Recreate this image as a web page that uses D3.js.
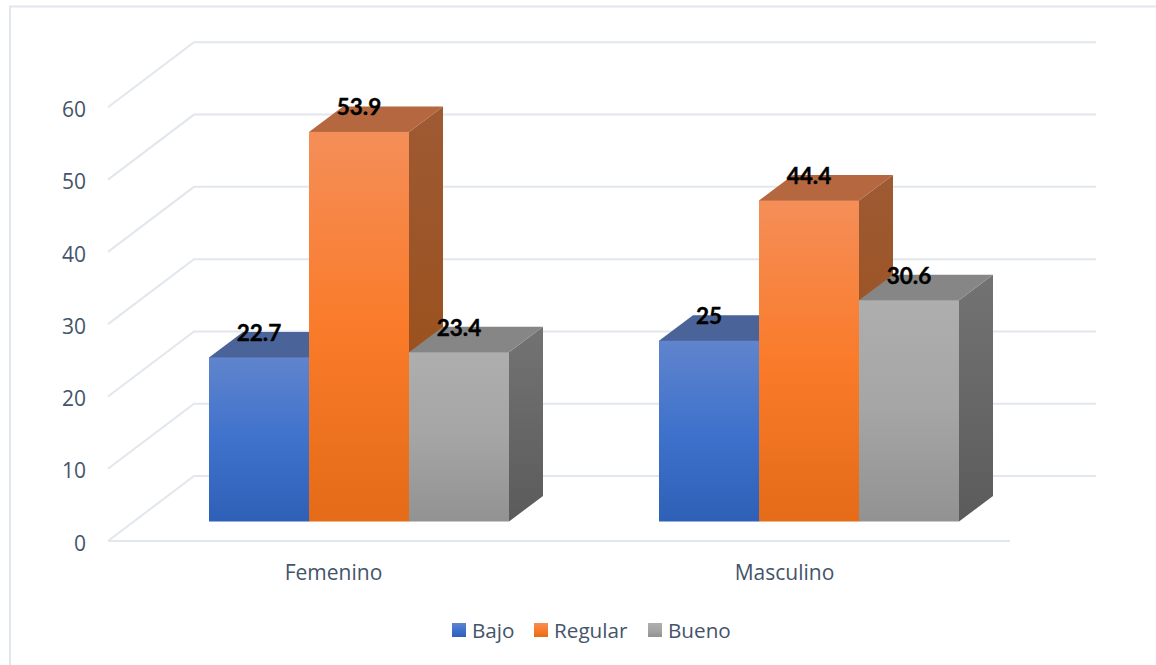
<!DOCTYPE html>
<html>
<head>
<meta charset="utf-8">
<script src="https://cdn.jsdelivr.net/npm/d3@7"></script>
<style>
  html, body { margin: 0; padding: 0; background: #fff; }
  svg { display: block; }
</style>
</head>
<body>
<div id="chart"></div>
<script>
var categories = ["Femenino", "Masculino"];
var seriesNames = ["Bajo", "Regular", "Bueno"];
var bajo = [22.7, 25];
var regular = [53.9, 44.4];
var bueno = [23.4, 30.6];
var yTicks = [0, 10, 20, 30, 40, 50, 60];

var width = 1156, height = 665;
var textColor = "#44546a", gridColor = "#e2e6ed";

// offset of the back wall from the front plane of the 3d box
var wallDx = 86, wallDy = -65;
// depth of a column, and how far the columns sit behind the front edge
var barDx = 34, barDy = -25.5, floorDy = -19.5;

var svg = d3.select("#chart").append("svg")
    .attr("width", width)
    .attr("height", height);

var y = d3.scaleLinear().domain([0, 60]).range([541, 107.3]);

// axis labels sit on the full floor width, the columns on a narrower band
var xAxisScale = d3.scaleBand().domain(categories).range([108, 1010]);
var x0 = d3.scaleBand().domain(categories).range([209, 959]).paddingInner(1 / 3);
var x1 = d3.scaleBand().domain(seriesNames).range([0, x0.bandwidth()]);

// colours per series: front gradient, top face, side gradient
var styles = {
    "Bajo": { front: ["#6084cd", "#3f72cc", "#2e60b7"], top: "#4a6399", side: ["#42598c", "#264d8f"] },
    "Regular": { front: ["#f48e58", "#fa7b2a", "#e46b17"], top: "#b5683f", side: ["#9e5a33", "#994c12"] },
    "Bueno": { front: ["#aeaeae", "#a5a5a5", "#929292"], top: "#868686", side: ["#737373", "#5b5b5b"] }
};

var defs = svg.append("defs");
seriesNames.forEach(function(name, i) {
    var s = styles[name];
    var f = defs.append("linearGradient").attr("id", "front" + i)
        .attr("x1", 0).attr("y1", 0).attr("x2", 0).attr("y2", 1);
    f.append("stop").attr("offset", "0%").attr("stop-color", s.front[0]);
    f.append("stop").attr("offset", "50%").attr("stop-color", s.front[1]);
    f.append("stop").attr("offset", "100%").attr("stop-color", s.front[2]);
    var g = defs.append("linearGradient").attr("id", "side" + i)
        .attr("x1", 0).attr("y1", 0).attr("x2", 0).attr("y2", 1);
    g.append("stop").attr("offset", "0%").attr("stop-color", s.side[0]);
    g.append("stop").attr("offset", "100%").attr("stop-color", s.side[1]);
});

// outer frame, only the top and left edges fall inside the page
svg.append("path")
    .attr("d", d3.line()([[10, height], [10, 6.5], [width, 6.5]]))
    .attr("fill", "none")
    .attr("stroke", gridColor)
    .attr("stroke-width", 2);

// back wall gridlines and the diagonals running out to the axis
var grid = svg.append("g").attr("fill", "none").attr("stroke", gridColor).attr("stroke-width", 2);
yTicks.forEach(function(t) {
    grid.append("path").attr("d", d3.line()([
        [108, y(t)],
        [108 + wallDx, y(t) + wallDy],
        [1010 + wallDx, y(t) + wallDy]
    ]));
});
grid.append("line")
    .attr("x1", 108).attr("x2", 1010)
    .attr("y1", y(0)).attr("y2", y(0));

// axes, lines hidden, only the labels stay
var yAxis = svg.append("g")
    .attr("transform", "translate(97,2.5)")
    .call(d3.axisLeft(y).tickValues(yTicks).tickSize(0).tickPadding(11));
var xAxis = svg.append("g")
    .attr("transform", "translate(0," + y(0) + ")")
    .call(d3.axisBottom(xAxisScale).tickSize(0).tickPadding(24));
[yAxis, xAxis].forEach(function(a) {
    a.select(".domain").remove();
    a.selectAll("text")
        .attr("fill", textColor)
        .attr("font-family", "'Open Sans', sans-serif")
        .attr("font-size", 21);
});

function faces(cat, name, value) {
    var left = x0(cat) + x1(name), right = left + x1.bandwidth();
    var top = y(value) + floorDy, base = y(0) + floorDy;
    return { left: left, right: right, top: top, base: base };
}

// columns, drawn left to right so each one covers the side of the previous
var seriesValues = [bajo, regular, bueno];
var labels = [];
categories.forEach(function(cat, c) {
    seriesNames.forEach(function(name, i) {
        var v = seriesValues[i][c];
        var b = faces(cat, name, v);
        var s = styles[name];
        var col = svg.append("g");
        col.append("path")
            .attr("d", d3.line()([
                [b.right, b.top], [b.right + barDx, b.top + barDy],
                [b.right + barDx, b.base + barDy], [b.right, b.base]
            ]) + "Z")
            .attr("fill", "url(#side" + i + ")");
        // top face runs a pixel under the front face so no seam shows
        col.append("path")
            .attr("d", d3.line()([
                [b.left, b.top + 1], [b.left, b.top], [b.left + barDx, b.top + barDy],
                [b.right + barDx, b.top + barDy], [b.right, b.top], [b.right, b.top + 1]
            ]) + "Z")
            .attr("fill", s.top);
        col.append("rect")
            .attr("x", b.left).attr("y", b.top)
            .attr("width", b.right - b.left).attr("height", b.base - b.top)
            .attr("fill", "url(#front" + i + ")");
        labels.push({ x: (b.left + b.right) / 2, y: b.top + barDy, v: v });
    });
});

// data labels go last, above every column
svg.append("g").selectAll("text")
    .data(labels)
    .enter().append("text")
    .attr("x", function(d) { return d.x; })
    .attr("y", function(d) { return d.y + 0.8; })
    .attr("dy", "0.36em")
    .attr("text-anchor", "middle")
    .attr("font-family", "Lato, sans-serif")
    .attr("font-weight", "bold")
    .attr("font-size", 22.5)
    .attr("fill", "#000")
    .attr("stroke", "#000")
    .attr("stroke-width", 0.4)
    .text(function(d) { return d.v; });

// legend
var legendX = [452, 534, 648], legendTextX = [472, 554, 668];
var legend = svg.append("g");
seriesNames.forEach(function(name, i) {
    legend.append("rect")
        .attr("x", legendX[i]).attr("y", 623)
        .attr("width", 14).attr("height", 14)
        .attr("fill", "url(#front" + i + ")");
    legend.append("text")
        .attr("x", legendTextX[i]).attr("y", 631)
        .attr("dy", "0.36em")
        .attr("font-family", "'Open Sans', sans-serif")
        .attr("font-size", 20.7)
        .attr("fill", textColor)
        .text(name);
});
</script>
</body>
</html>
